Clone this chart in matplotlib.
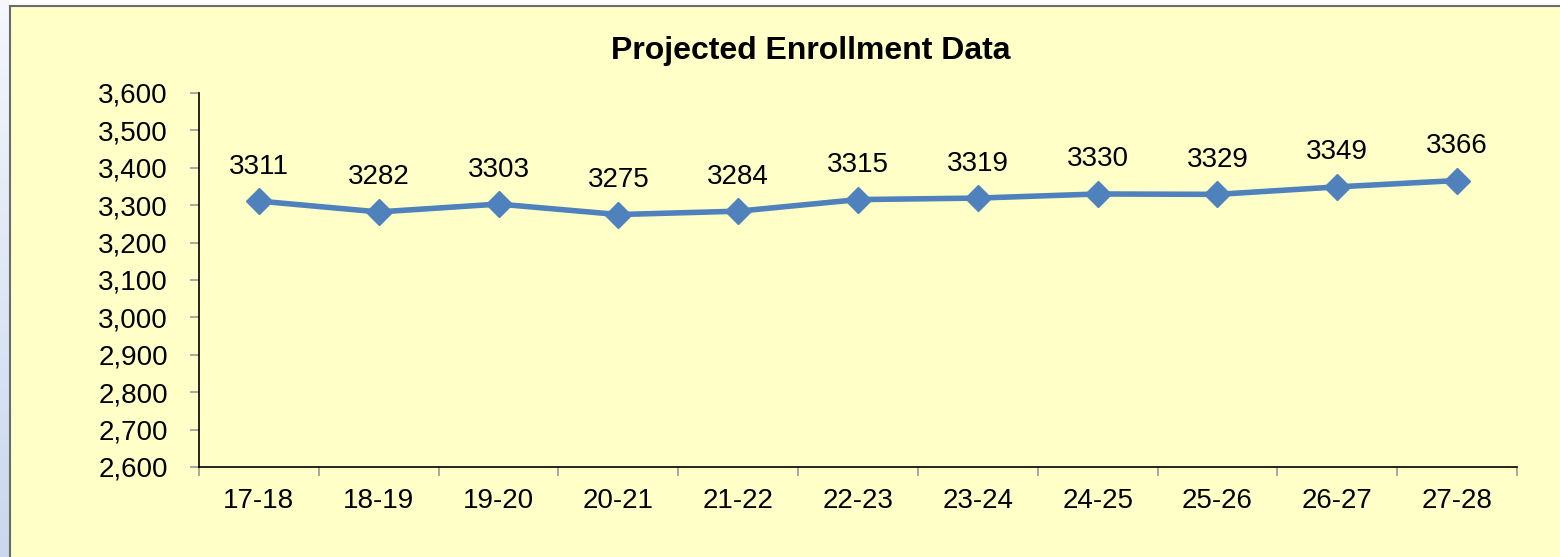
import numpy as np
import matplotlib
matplotlib.use("Agg")
import matplotlib.pyplot as plt
from matplotlib.lines import Line2D
from matplotlib.patches import Rectangle
from matplotlib.ticker import FuncFormatter, MultipleLocator

years = ["17-18", "18-19", "19-20", "20-21", "21-22", "22-23",
         "23-24", "24-25", "25-26", "26-27", "27-28"]
enrollment = [3311, 3282, 3303, 3275, 3284, 3315, 3319, 3330, 3329, 3349, 3366]

plt.rcParams['font.family'] = ['Liberation Sans', 'DejaVu Sans']

W, H = 1560, 557
bg = "#FFFFC8"
fig = plt.figure(figsize=(W / 100, H / 100), dpi=100)
fig.patch.set_facecolor(bg)

# white margin above the chart area
fig.patches.append(Rectangle((0, 1 - 5.5 / H), 1, 5.5 / H, transform=fig.transFigure,
                             facecolor="white", edgecolor="none", zorder=-5))
# chart area border
fig.lines.append(Line2D([9.5 / W, 9.5 / W], [0, 1 - 5.5 / H], transform=fig.transFigure,
                        color="#6b6b6b", lw=1.5))
fig.lines.append(Line2D([9.5 / W, 1], [1 - 5.5 / H, 1 - 5.5 / H], transform=fig.transFigure,
                        color="#6b6b6b", lw=1.5))

# bluish strip on the left
strip = fig.add_axes([0, 0, 9 / W, 1])
grad = np.linspace(0, 1, 50).reshape(-1, 1)
strip.imshow(grad, aspect="auto", cmap=matplotlib.colors.LinearSegmentedColormap.from_list(
    "s", ["#f4f7fc", "#c9d8ee"]), extent=[0, 1, 0, 1])
strip.axis("off")

ax = fig.add_axes([199 / W, 1 - 467 / H, (1517 - 199) / W, (467 - 93) / H])
ax.set_facecolor(bg)
x = np.arange(len(years))
ax.plot(x, enrollment, color="#4F81BD", lw=4, marker="D", markersize=13,
        markerfacecolor="#4F81BD", markeredgecolor="#4F81BD", zorder=3, clip_on=False)

for xi, v in zip(x, enrollment):
    ax.annotate(str(v), (xi, v), xytext=(0, 15.5), textcoords="offset points",
                ha="center", va="bottom", fontsize=20)

ax.set_ylim(2600, 3600)
ax.set_xlim(-0.5, len(years) - 0.5)
ax.yaxis.set_major_locator(MultipleLocator(100))
ax.yaxis.set_major_formatter(FuncFormatter(lambda v, _: f"{int(v):,}"))
ax.set_xticks(x)
ax.set_xticklabels(years)
ax.set_xticks(np.arange(-0.5, len(years)), minor=True)
ax.tick_params(axis="x", which="major", length=0, labelsize=20, pad=15)
ax.tick_params(axis="x", which="minor", length=6.5, width=1.2, color="#999999", direction="out")
ax.tick_params(axis="y", length=6.5, width=1.2, color="#999999", labelsize=20, pad=16)

for s in ["top", "right"]:
    ax.spines[s].set_visible(False)
for s in ["left", "bottom"]:
    ax.spines[s].set_color("black")
    ax.spines[s].set_linewidth(1.2)

fig.text((612 + 1010) / 2 / W, 1 - 51 / H, "Projected Enrollment Data", ha="center",
         va="center", fontsize=23, fontweight="bold")

fig.savefig("out.png", dpi=100, facecolor=fig.get_facecolor())
